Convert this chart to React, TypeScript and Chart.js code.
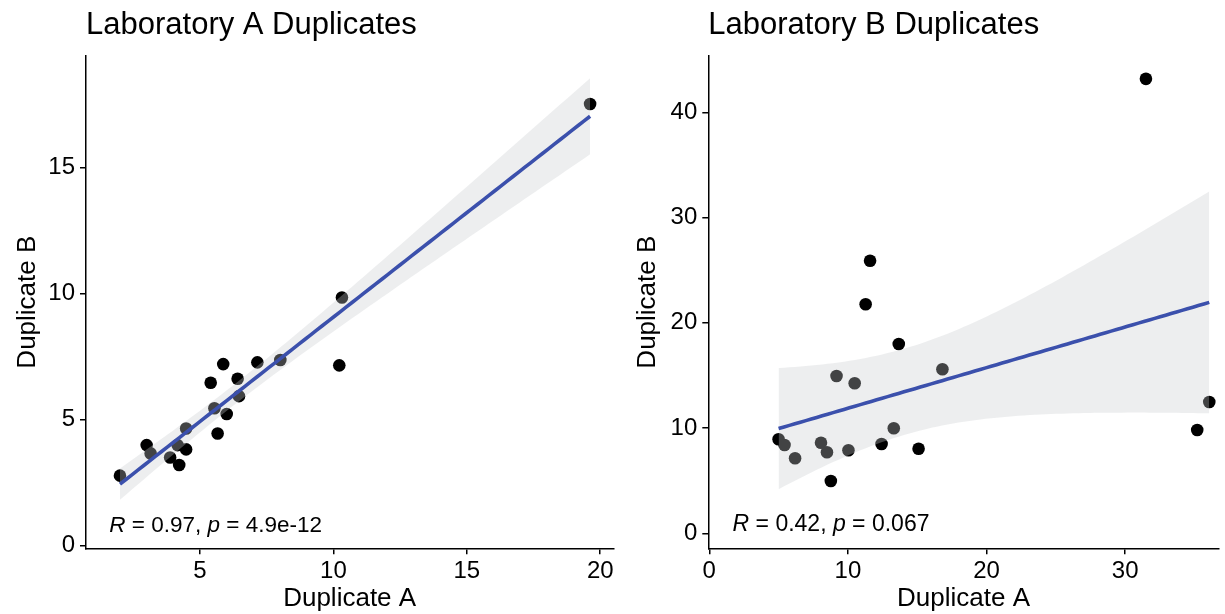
import React, { useEffect, useRef } from "react";
import { Chart, registerables } from "chart.js";

Chart.register(...registerables);

// ---------- Data ----------
const labA_x = [2.0, 3.0, 3.15, 3.88, 4.22, 4.16, 4.48, 4.48, 5.4, 5.54, 5.66, 5.87, 6.0, 6.41, 6.46, 7.15, 8.01, 10.22, 10.32, 19.62];
const labA_y = [2.78, 3.99, 3.66, 3.5, 3.2, 3.99, 3.82, 4.65, 6.46, 5.45, 4.45, 7.2, 5.22, 6.62, 5.93, 7.27, 7.36, 7.15, 9.84, 17.51];

const labB_x = [5.0, 5.43, 6.19, 8.06, 8.49, 8.77, 9.18, 10.04, 10.49, 11.28, 11.6, 12.43, 13.31, 13.67, 15.1, 16.82, 31.5, 35.2, 36.07];
const labB_y = [8.94, 8.39, 7.13, 8.61, 7.7, 4.97, 14.95, 7.89, 14.26, 21.77, 25.9, 8.49, 9.98, 17.99, 8.04, 15.59, 43.2, 9.82, 12.48];

const ticksA_x = [5, 10, 15, 20];
const ticksA_y = [0, 5, 10, 15];
const ticksB_x = [0, 10, 20, 30];
const ticksB_y = [0, 10, 20, 30, 40];

const titleA = "Laboratory A Duplicates";
const titleB = "Laboratory B Duplicates";
const xTitle = "Duplicate A";
const yTitle = "Duplicate B";

const corA: [string, boolean][] = [["R", true], [" = 0.97, ", false], ["p", true], [" = 4.9e-12", false]];
const corB: [string, boolean][] = [["R", true], [" = 0.42, ", false], ["p", true], [" = 0.067", false]];

// ---------- Styling ----------
const FONT = "'Liberation Sans', Arial, Helvetica, sans-serif";
const BLUE = "#3b50ac";
const BAND = "rgba(200,202,206,0.33)";

// t quantile (0.975) via Cornish-Fisher expansion
function t975(df: number) {
  const z = 1.959964;
  const z3 = z ** 3, z5 = z ** 5, z7 = z ** 7;
  const g1 = (z3 + z) / 4;
  const g2 = (5 * z5 + 16 * z3 + 3 * z) / 96;
  const g3 = (3 * z7 + 19 * z5 + 17 * z3 - 15 * z) / 384;
  return z + g1 / df + g2 / df ** 2 + g3 / df ** 3;
}

// linear regression with 95% confidence band (as ggplot's geom_smooth(method = "lm"))
function lmBand(xs: number[], ys: number[], nOut = 80) {
  const n = xs.length;
  const mx = xs.reduce((a, b) => a + b, 0) / n;
  const my = ys.reduce((a, b) => a + b, 0) / n;
  let sxx = 0, sxy = 0;
  for (let i = 0; i < n; i++) {
    sxx += (xs[i] - mx) ** 2;
    sxy += (xs[i] - mx) * (ys[i] - my);
  }
  const b = sxy / sxx;
  const a = my - b * mx;
  let sse = 0;
  for (let i = 0; i < n; i++) sse += (ys[i] - a - b * xs[i]) ** 2;
  const s = Math.sqrt(sse / (n - 2));
  const t = t975(n - 2);
  const lo = Math.min(...xs), hi = Math.max(...xs);
  const fit: { x: number; y: number }[] = [];
  const upper: { x: number; y: number }[] = [];
  const lower: { x: number; y: number }[] = [];
  for (let i = 0; i < nOut; i++) {
    const x = lo + ((hi - lo) * i) / (nOut - 1);
    const f = a + b * x;
    const se = s * Math.sqrt(1 / n + (x - mx) ** 2 / sxx);
    fit.push({ x, y: f });
    upper.push({ x, y: f + t * se });
    lower.push({ x, y: f - t * se });
  }
  return { fit, upper, lower };
}

const corLabelPlugin = {
  id: "corLabel",
  afterDatasetsDraw(chart: any) {
    const cfg = chart.options.plugins.corLabel;
    if (!cfg) return;
    const { ctx } = chart;
    const x = chart.scales.x.getPixelForValue(cfg.x);
    const y = chart.scales.y.getPixelForValue(cfg.y);
    ctx.save();
    ctx.fillStyle = "#000";
    ctx.textAlign = "left";
    ctx.textBaseline = "alphabetic";
    let cx = x;
    for (const [txt, it] of cfg.parts as [string, boolean][]) {
      ctx.font = `${it ? "italic " : ""}${cfg.size}px ${FONT}`;
      ctx.fillText(txt, cx, y);
      cx += ctx.measureText(txt).width;
    }
    ctx.restore();
  },
};

type PanelProps = {
  xs: number[];
  ys: number[];
  xTicks: number[];
  yTicks: number[];
  xMin: number;
  xMax: number;
  yMin: number;
  yMax: number;
  title: string;
  parts: [string, boolean][];
  labelX: number;
  labelY: number;
  labelSize: number;
  width: number;
  height: number;
  yAxisWidth: number;
  padRight: number;
  yTitlePad: number;
};

function Panel(p: PanelProps) {
  const ref = useRef<HTMLCanvasElement | null>(null);
  useEffect(() => {
    if (!ref.current) return;
    const band = lmBand(p.xs, p.ys);
    const pts = p.xs.map((x, i) => ({ x, y: p.ys[i] }));
    const tickFont = { family: FONT, size: 24 };
    const titleFont = { family: FONT, size: 26 };
    const chart = new Chart(ref.current, {
      type: "scatter",
      data: {
        datasets: [
          {
            type: "scatter",
            data: pts,
            backgroundColor: "#000",
            borderColor: "#000",
            borderWidth: 0,
            pointRadius: 6.3,
            order: 3,
          } as any,
          {
            type: "line",
            data: band.upper,
            borderColor: "rgba(0,0,0,0)",
            borderWidth: 0,
            pointRadius: 0,
            fill: false,
            order: 2,
          } as any,
          {
            type: "line",
            data: band.lower,
            borderColor: "rgba(0,0,0,0)",
            borderWidth: 0,
            pointRadius: 0,
            backgroundColor: BAND,
            fill: "-1",
            order: 2,
          } as any,
          {
            type: "line",
            data: band.fit,
            borderColor: BLUE,
            borderWidth: 3.6,
            pointRadius: 0,
            fill: false,
            order: 1,
          } as any,
        ],
      },
      options: {
        responsive: false,
        animation: false,
        devicePixelRatio: 1,
        events: [],
        layout: { padding: { left: 0, right: p.padRight, top: 0, bottom: 0 } },
        scales: {
          x: {
            type: "linear",
            min: p.xMin,
            max: p.xMax,
            afterBuildTicks: (s: any) => {
              s.ticks = p.xTicks.map((v) => ({ value: v }));
            },
            afterFit: (s: any) => {
              s.height = p.height - 548.3;
            },
            grid: { drawOnChartArea: false, drawTicks: true, tickLength: 6, color: "#000", lineWidth: 1.5 },
            border: { display: true, color: "#000", width: 1.5 },
            ticks: { color: "#000", font: tickFont, padding: 3, maxRotation: 0, autoSkip: false },
            title: { display: true, text: xTitle, color: "#000", font: titleFont, padding: { top: 0, bottom: 0 } },
          },
          y: {
            type: "linear",
            min: p.yMin,
            max: p.yMax,
            afterBuildTicks: (s: any) => {
              s.ticks = p.yTicks.map((v) => ({ value: v }));
            },
            afterFit: (s: any) => {
              s.width = p.yAxisWidth;
            },
            grid: { drawOnChartArea: false, drawTicks: true, tickLength: 6, color: "#000", lineWidth: 1.5 },
            border: { display: true, color: "#000", width: 1.5 },
            ticks: { color: "#000", font: tickFont, padding: 5, autoSkip: false },
            title: { display: true, text: yTitle, color: "#000", font: titleFont, padding: { top: p.yTitlePad, bottom: 0 } },
          },
        },
        plugins: {
          legend: { display: false },
          tooltip: { enabled: false },
          title: {
            display: true,
            text: p.title,
            align: "start",
            fullSize: false,
            color: "#000",
            font: { family: FONT, size: 31, weight: "normal" },
            padding: { top: 7, bottom: 11.8 },
          },
          corLabel: { x: p.labelX, y: p.labelY, parts: p.parts, size: p.labelSize },
        } as any,
      },
      plugins: [corLabelPlugin],
    } as any);
    return () => chart.destroy();
  }, []);
  return <canvas ref={ref} width={p.width} height={p.height} style={{ display: "block", width: p.width, height: p.height }} />;
}

export default function App() {
  return (
    <div style={{ position: "absolute", left: 0, top: 0, width: 1225, height: 614, background: "#fff", overflow: "hidden" }}>
      <div style={{ position: "absolute", left: 0, top: 0 }}>
        <Panel
          xs={labA_x}
          ys={labA_y}
          xTicks={ticksA_x}
          yTicks={ticksA_y}
          xMin={0.727}
          xMax={20.49}
          yMin={-0.1}
          yMax={19.41}
          title={titleA}
          parts={corA}
          labelX={1.6}
          labelY={0.55}
          labelSize={22.5}
          width={620}
          height={614}
          yAxisWidth={86}
          padRight={6.7}
          yTitlePad={12}
        />
      </div>
      <div style={{ position: "absolute", left: 620, top: 0 }}>
        <Panel
          xs={labB_x}
          ys={labB_y}
          xTicks={ticksB_x}
          yTicks={ticksB_y}
          xMin={-0.07}
          xMax={36.75}
          yMin={-1.43}
          yMax={45.37}
          title={titleB}
          parts={corB}
          labelX={1.68}
          labelY={0.25}
          labelSize={23}
          width={605}
          height={614}
          yAxisWidth={88.3}
          padRight={3}
          yTitlePad={12}
        />
      </div>
    </div>
  );
}
